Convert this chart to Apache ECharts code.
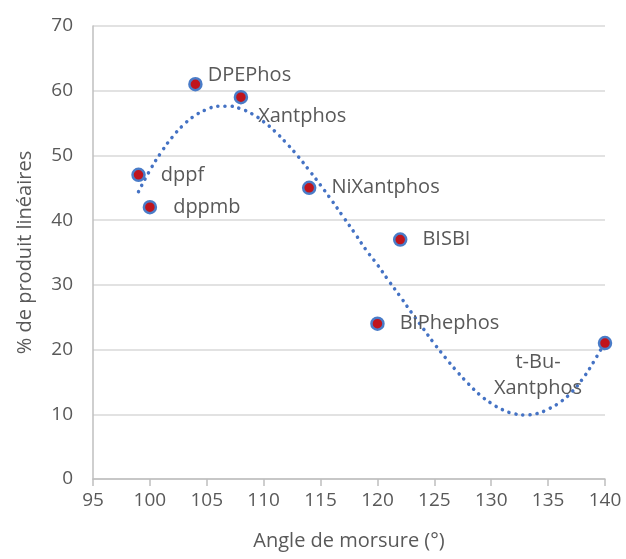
<!DOCTYPE html>
<html>
<head>
<meta charset="utf-8">
<script src="https://cdn.jsdelivr.net/npm/echarts@6/dist/echarts.min.js"></script>
<style>
html,body{margin:0;padding:0;background:#fff;}
#chart{width:626px;height:559px;}
</style>
</head>
<body>
<div id="chart"></div>
<script>
// Ligand data: bite angle (°) vs % linear product
const ligandNames = ['dppf', 'dppmb', 'DPEPhos', 'Xantphos', 'NiXantphos', 'BiPhephos', 'BISBI', 't-Bu-\nXantphos'];
const biteAngles = [99, 100, 104, 108, 114, 120, 122, 140];
const linearPct = [47, 42, 61, 59, 45, 24, 37, 21];

// Polynomial trendline
const trendX = [99,100,101,102,103,104,105,106,107,108,109,110,111,112,113,114,115,116,117,118,119,120,121,122,123,124,125,126,127,128,129,130,131,132,133,134,135,136,137,138,139,140];
const trendY = [44.4,47.7,50.5,52.9,54.8,56.2,57.1,57.6,57.6,57.2,56.4,55.2,53.7,51.9,49.9,47.7,45.4,43.0,40.5,38.0,35.4,33.1,30.6,28.2,25.7,23.3,20.9,18.7,16.6,14.7,13.0,11.7,10.7,10.1,9.9,10.1,10.8,11.8,13.3,15.4,18.1,21.2];

const xTicks = {min: 95, max: 140, interval: 5};
const yTicks = {min: 0, max: 70, interval: 10};

const FONT = 'Open Sans';
const TXT = '#595959';

const labelCfg = [
  {position: 'right', distance: 15, offset: [0, 0]},
  {position: 'right', distance: 16, offset: [0, 0]},
  {position: 'right', distance: 5, offset: [0, -9]},
  {position: 'right', distance: 10, offset: [0, 19]},
  {position: 'right', distance: 15, offset: [0, 0]},
  {position: 'right', distance: 15, offset: [0, 0]},
  {position: 'right', distance: 15, offset: [0, 0]},
  {position: 'inside', distance: 0, offset: [-67, 32], align: 'center', lineHeight: 26}
];

const scatterData = biteAngles.map((x, i) => {
  const c = labelCfg[i];
  return {
    value: [x, linearPct[i]],
    name: ligandNames[i],
    label: Object.assign({show: true, formatter: ligandNames[i]}, c)
  };
});

const chart = echarts.init(document.getElementById('chart'), null, {renderer: 'canvas'});
chart.setOption({
  animation: false,
  backgroundColor: '#ffffff',
  grid: {left: 93, right: 21, top: 26, bottom: 80},
  xAxis: {
    type: 'value',
    min: xTicks.min, max: xTicks.max, interval: xTicks.interval,
    name: 'Angle de morsure (°)',
    nameLocation: 'middle', nameGap: 52,
    nameTextStyle: {color: TXT, fontFamily: FONT, fontSize: 20},
    axisLine: {show: true, lineStyle: {color: '#BFBFBF', width: 1.5}},
    axisTick: {show: true, length: 7, inside: false, lineStyle: {color: '#BFBFBF', width: 1.5}},
    axisLabel: {color: TXT, fontFamily: FONT, fontSize: 19, margin: 12},
    splitLine: {show: false}
  },
  yAxis: {
    type: 'value',
    min: yTicks.min, max: yTicks.max, interval: yTicks.interval,
    name: '% de produit linéaires',
    nameLocation: 'middle', nameGap: 58, nameRotate: 90,
    nameTextStyle: {color: TXT, fontFamily: FONT, fontSize: 20},
    axisLine: {show: true, lineStyle: {color: '#BFBFBF', width: 1.5}},
    axisTick: {show: false},
    axisLabel: {color: TXT, fontFamily: FONT, fontSize: 19, margin: 20},
    splitLine: {show: true, lineStyle: {color: '#D9D9D9', width: 1.5}}
  },
  series: [
    {
      type: 'line',
      data: trendX.map((x, i) => [x, trendY[i]]),
      smooth: true,
      symbol: 'none',
      silent: true,
      lineStyle: {color: '#4472C4', width: 3.5, type: [0.1, 7], cap: 'round'},
      z: 2
    },
    {
      type: 'scatter',
      data: scatterData,
      symbol: 'circle',
      symbolSize: 12,
      itemStyle: {color: '#C0141C', borderColor: '#4A7CC8', borderWidth: 2.5, opacity: 1},
      label: {color: TXT, fontFamily: FONT, fontSize: 20},
      z: 3
    }
  ]
});
</script>
</body>
</html>
